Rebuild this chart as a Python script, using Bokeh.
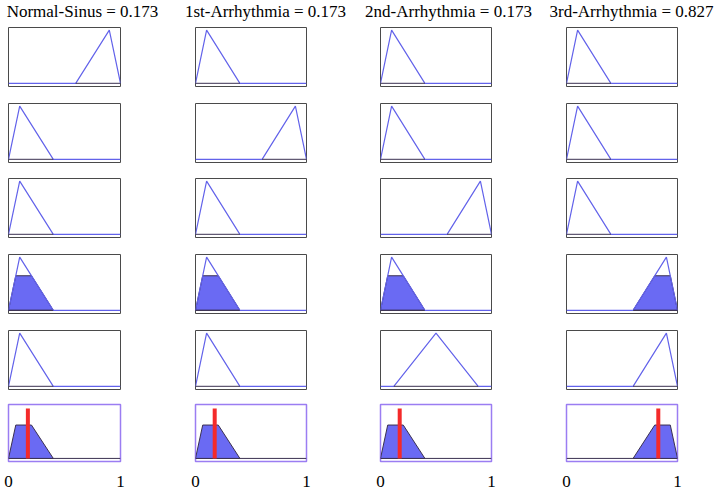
from bokeh.plotting import figure
from bokeh.layouts import gridplot, column
from bokeh.models import Range1d, FixedTicker
from bokeh.embed import file_html
from bokeh.resources import INLINE

# ---------------- data ----------------
titles = ["Normal-Sinus = 0.173", "1st-Arrhythmia = 0.173",
          "2nd-Arrhythmia = 0.173", "3rd-Arrhythmia = 0.827"]
output_values = [0.173, 0.173, 0.173, 0.827]

# membership-function shape used in each input row (rows 1..5) for each column
input_mfs = [
    ["high", "low", "low", "low", "low"],
    ["low", "high", "low", "low", "low"],
    ["low", "low", "high", "low", "mid"],
    ["low", "low", "low", "high", "high"],
]
output_mfs = ["low", "low", "low", "high"]
fired_row = 3          # the row whose rule fires (filled)
firing_strength = 0.65

mf_params = {
    "low": [0.0, 0.1, 0.4],
    "mid": [0.12, 0.5, 0.88],
    "high": [0.6, 0.9, 1.0],
}
tick_values = [0, 1]
tick_labels = {0: "0", 1: "1"}

# ---------------- style / layout ----------------
MF_LINE = "#6262ea"
FILL = "#6a6af3"
DARK = "#3a3050"
IN_BORDER = "#4a4a4a"
OUT_BORDER = "#9b7df2"
RED = "#f42a2a"
SERIF = "Liberation Serif"

FRAME_H = 59
col_left = [8, 6, 6, 6]            # border left of each column's frame
col_frame = [112, 111, 111, 111]
col_width = [189, 185, 186, 154]
row_height = [76, 75, 76, 76, 74, 86]
HEADER_H = 26
Y_RANGE = (-0.06, 1.05)


def tri(params):
    a, b, c = params
    return [0.0, a, b, c, 1.0], [0.0, 0.0, 1.0, 0.0, 0.0]


def clipped(params, h):
    a, b, c = params
    return [a, a + (b - a) * h, c - (c - b) * h, c], [0.0, h, h, 0.0]


def make_panel(col, row):
    bottom_row = row == 5
    width = col_width[col]
    right = width - col_left[col] - col_frame[col]
    height = row_height[row]
    bottom = height - 1 - FRAME_H
    p = figure(width=width, height=height, output_backend="svg",
               toolbar_location=None, x_range=Range1d(0, 1),
               y_range=Range1d(*Y_RANGE),
               min_border_left=col_left[col], min_border_right=right,
               min_border_top=1, min_border_bottom=bottom)
    p.grid.visible = False
    p.yaxis.visible = False
    p.background_fill_color = "white"
    p.border_fill_color = "white"
    if bottom_row:
        ax = p.xaxis[0]
        ax.ticker = FixedTicker(ticks=tick_values)
        ax.major_label_overrides = tick_labels
        ax.axis_line_color = None
        ax.major_tick_line_color = None
        ax.minor_tick_line_color = None
        ax.major_label_text_font = SERIF
        ax.major_label_text_font_size = "17px"
        ax.major_label_text_color = "black"
        ax.major_label_standoff = 8
    else:
        p.xaxis.visible = False

    if row < 5:
        p.outline_line_color = IN_BORDER
        p.outline_line_width = 1
        params = mf_params[input_mfs[col][row]]
        xs, ys = tri(params)
        if row == fired_row:
            cx, cy = clipped(params, firing_strength)
            p.patch(cx, cy, fill_color=FILL, fill_alpha=1.0,
                    line_color=DARK, line_width=1)
        p.line(xs, ys, line_color=MF_LINE, line_width=1.2)
        p.line([params[0], params[2]], [0, 0], line_color=DARK, line_width=1)
    else:
        p.outline_line_color = OUT_BORDER
        p.outline_line_width = 1.5
        params = mf_params[output_mfs[col]]
        p.line([0, 1], [0, 0], line_color=DARK, line_width=1)
        cx, cy = clipped(params, firing_strength)
        p.patch(cx, cy, fill_color=FILL, fill_alpha=1.0,
                line_color=DARK, line_width=1)
        v = output_values[col]
        p.segment(x0=[v], y0=[0.0], x1=[v], y1=[0.97],
                  line_color=RED, line_width=4)
    return p


rows = []
for r in range(6):
    rows.append([make_panel(c, r) for c in range(4)])
grid = gridplot(rows, toolbar_location=None)

# header with column titles, positioned over each column
TITLE_PITCH = 183
total_w = sum(col_width)
x_start = -82 / TITLE_PITCH
header = figure(width=total_w, height=HEADER_H, output_backend="svg",
                toolbar_location=None,
                x_range=Range1d(x_start, x_start + total_w / TITLE_PITCH),
                y_range=Range1d(0, 1),
                min_border_left=0, min_border_right=0,
                min_border_top=0, min_border_bottom=0)
header.axis.visible = False
header.grid.visible = False
header.outline_line_color = None
header.text(x=list(range(len(titles))), y=[0.56] * len(titles), text=titles,
            text_align="center", text_baseline="alphabetic",
            text_font=SERIF, text_font_size="17px", text_color="black")

layout = column(header, grid)
open("out.html", "w").write(file_html(layout, INLINE))
